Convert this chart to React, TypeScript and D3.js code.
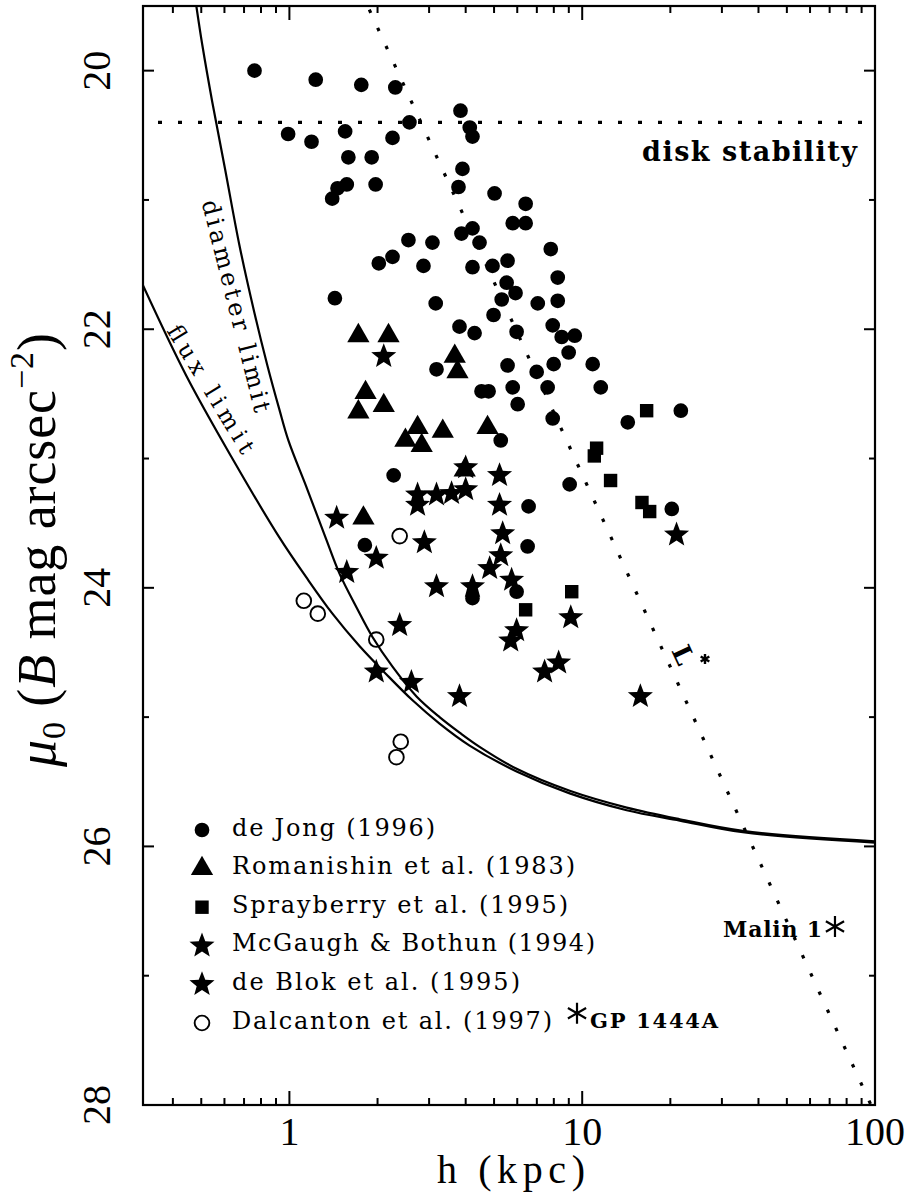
import React from "react";
import * as d3 from "d3";

type Pt = [number, number];

// h (kpc), mu0 (B mag arcsec^-2)
const deJong: Pt[] = [
  [0.76, 20.0], [1.23, 20.07], [1.76, 20.11], [2.3, 20.13], [3.84, 20.31], [2.57, 20.4],
  [4.13, 20.44], [4.22, 20.51], [0.99, 20.49], [1.19, 20.55], [1.55, 20.47], [2.25, 20.52],
  [1.59, 20.67], [1.91, 20.67], [3.9, 20.76], [3.78, 20.9], [1.57, 20.88], [1.46, 20.91],
  [1.4, 20.99], [1.97, 20.88], [2.55, 21.31], [3.08, 21.33], [3.87, 21.26], [4.22, 21.22],
  [2.25, 21.44], [2.02, 21.49], [2.87, 21.51], [4.22, 21.52], [1.43, 21.76], [3.16, 21.8],
  [5.02, 20.95], [6.41, 21.03], [5.79, 21.18], [6.41, 21.18], [4.46, 21.33], [7.81, 21.38],
  [4.94, 21.51], [5.56, 21.47], [5.52, 21.64], [5.92, 21.72], [5.31, 21.77], [7.05, 21.8],
  [8.25, 21.6], [8.25, 21.78], [4.98, 21.89], [4.29, 22.03], [5.97, 22.02], [7.93, 21.97],
  [8.51, 22.06], [9.43, 22.05], [8.99, 22.18], [5.56, 22.28], [6.99, 22.33], [7.99, 22.27],
  [10.86, 22.27], [11.57, 22.45], [7.62, 22.45], [4.53, 22.48], [4.79, 22.48], [5.79, 22.45],
  [6.02, 22.58], [7.93, 22.69], [14.31, 22.72], [21.72, 22.63], [5.27, 22.86], [9.06, 23.2],
  [6.56, 23.37], [20.23, 23.39], [6.51, 23.68], [3.81, 21.98], [3.18, 22.31], [2.27, 23.13],
  [1.81, 23.67], [5.97, 24.03], [4.22, 24.08],
];
const romanishin: Pt[] = [
  [1.72, 22.05], [2.18, 22.05], [1.82, 22.49], [1.72, 22.64], [2.1, 22.59], [3.67, 22.21],
  [3.75, 22.33], [2.74, 22.76], [2.49, 22.86], [2.83, 22.9], [3.34, 22.79], [3.97, 23.09],
  [1.79, 23.46], [4.75, 22.76],
];
const sprayberry: Pt[] = [
  [16.6, 22.63], [11.2, 22.92], [11.0, 22.98], [12.5, 23.17], [16.0, 23.34], [17.0, 23.41],
  [9.21, 24.03], [6.41, 24.17],
];
const mcgaugh: Pt[] = [
  [2.1, 22.21], [1.45, 23.46], [1.98, 23.77], [1.57, 23.88], [2.89, 23.65], [3.18, 23.99],
  [2.38, 24.29], [1.98, 24.65], [2.61, 24.73], [3.81, 24.84], [2.74, 23.28], [2.74, 23.36],
  [3.18, 23.28], [3.58, 23.27], [4.0, 23.07],
];
const deBlok: Pt[] = [
  [4.0, 23.24], [5.22, 23.13], [5.22, 23.36], [5.35, 23.58], [5.27, 23.75], [4.83, 23.85],
  [5.74, 23.94], [4.22, 23.99], [21.0, 23.59], [9.14, 24.23], [5.97, 24.33], [5.7, 24.41],
  [8.31, 24.58], [7.44, 24.65], [15.8, 24.84],
];
const dalcanton: Pt[] = [
  [1.12, 24.1], [1.25, 24.2], [1.98, 24.4], [2.38, 23.6], [2.4, 25.19], [2.32, 25.31],
];
const malin1: Pt = [73, 26.62];
const gp1444a: Pt = [9.6, 27.29];

const diameterLimit: Pt[] = [
  [0.481, 19.5], [0.504, 19.8], [0.545, 20.24], [0.604, 20.77], [0.675, 21.35], [0.759, 21.87],
  [0.841, 22.28], [0.924, 22.62], [0.992, 22.86], [1.152, 23.24], [1.338, 23.63], [1.483, 23.89],
  [1.694, 24.15], [1.922, 24.38], [2.25, 24.61], [2.718, 24.84], [3.257, 25.0], [3.813, 25.12],
  [4.463, 25.23], [5.971, 25.4], [9.064, 25.57], [14.19, 25.7], [21.54, 25.79], [35.38, 25.88],
  [100, 25.96],
];
const fluxLimit: Pt[] = [
  [0.316, 21.66], [0.4445, 22.36], [0.6385, 23.0], [0.924, 23.61], [1.143, 23.92], [1.403, 24.2],
  [1.735, 24.45], [2.146, 24.67], [2.634, 24.87], [3.257, 25.05], [4.125, 25.22], [5.971, 25.42],
  [9.064, 25.59], [14.19, 25.72], [21.54, 25.8], [35.38, 25.89], [100, 25.97],
];
const lStarLine: Pt[] = [[1.85, 19.5], [96.9, 28]];
const stabilityMu = 20.4;

const yTicks = [20, 21, 22, 23, 24, 25, 26, 27, 28];
const yLabels = [20, 22, 24, 26, 28];
const xLabels = [1, 10, 100];

const legendLabels = [
  "de Jong (1996)",
  "Romanishin et al. (1983)",
  "Sprayberry et al. (1995)",
  "McGaugh & Bothun (1994)",
  "de Blok et al. (1995)",
  "Dalcanton et al. (1997)",
];
const legendKinds = ["circle", "triangle", "square", "star", "star", "open"];

const W = 918;
const H = 1194;
const X0 = 143, X1 = 875, Y0 = 6, Y1 = 1105;

const x = d3.scaleLog().domain([Math.pow(10, -0.5), 100]).range([X0, X1]);
const y = d3.scaleLinear().domain([19.5, 28]).range([Y0, Y1]);

const starPath = (R: number, r: number) => {
  const pts = d3.range(10).map((i) => {
    const a = -Math.PI / 2 + (i * Math.PI) / 5;
    const rad = i % 2 === 0 ? R : r;
    return [rad * Math.cos(a), rad * Math.sin(a)];
  });
  return "M" + pts.map((p) => p[0].toFixed(2) + "," + p[1].toFixed(2)).join("L") + "Z";
};
const asteriskPath = (L: number) =>
  [90, 30, -30]
    .map((deg) => {
      const a = (deg * Math.PI) / 180;
      const dx = (Math.cos(a) * L) / 2, dy = (Math.sin(a) * L) / 2;
      return `M${-dx},${-dy}L${dx},${dy}`;
    })
    .join("");

const paths: Record<string, string> = {
  circle: d3.symbol(d3.symbolCircle, 170)()!,
  open: d3.symbol(d3.symbolCircle, 170)()!,
  triangle: d3.symbol(d3.symbolTriangle, 215)()!,
  square: d3.symbol(d3.symbolSquare, 180)()!,
  star: starPath(13.2, 5.6),
};

const Marker = ({ kind, cx, cy }: { kind: string; cx: number; cy: number }) =>
  kind === "open" ? (
    <path d={paths.open} transform={`translate(${cx},${cy})`} fill="none" stroke="#000" strokeWidth={1.9} />
  ) : (
    <path d={paths[kind]} transform={`translate(${cx},${cy})`} fill="#000" />
  );

const curve = d3
  .line<Pt>()
  .x((d) => x(d[0]))
  .y((d) => y(d[1]))
  .curve(d3.curveCatmullRom.alpha(0.5));
const straight = d3
  .line<Pt>()
  .x((d) => x(d[0]))
  .y((d) => y(d[1]));

const series: [Pt[], string][] = [
  [deJong, "circle"],
  [romanishin, "triangle"],
  [sprayberry, "square"],
  [mcgaugh, "star"],
  [deBlok, "star"],
  [dalcanton, "open"],
];

const legendWidths = [203, 343, 336, 363, 288, 320];

export default function App() {
  const xt = x.ticks();
  const serif = "'Liberation Serif', 'Times New Roman', serif";
  const slab = "'DejaVu Serif', serif";
  return (
    <svg
      width={W}
      height={H}
      style={{ position: "absolute", left: 0, top: 0, background: "#fff" }}
    >
      <defs>
        <clipPath id="frame">
          <rect x={X0} y={Y0} width={X1 - X0} height={Y1 - Y0} />
        </clipPath>
      </defs>
      <rect x={0} y={0} width={W} height={H} fill="#fff" />

      <g clipPath="url(#frame)">
        <path d={curve(diameterLimit)!} fill="none" stroke="#000" strokeWidth={2.2} />
        <path d={curve(fluxLimit)!} fill="none" stroke="#000" strokeWidth={2.2} />
        <path
          d={straight(lStarLine)!}
          fill="none"
          stroke="#000"
          strokeWidth={3.2}
          strokeDasharray="3.5 16.5"
          strokeDashoffset={-4}
        />
        <line
          x1={X0}
          x2={X1}
          y1={y(stabilityMu)}
          y2={y(stabilityMu)}
          stroke="#000"
          strokeWidth={3.4}
          strokeDasharray="4 16"
          strokeDashoffset={5}
        />
      </g>

      {series.map(([pts, kind], si) =>
        pts.map((p, i) => <Marker key={si + "-" + i} kind={kind} cx={x(p[0])} cy={y(p[1])} />)
      )}

      {[malin1, gp1444a].map((p, i) => (
        <path
          key={"ast" + i}
          d={asteriskPath(21)}
          transform={`translate(${x(p[0])},${y(p[1])})`}
          stroke="#000"
          strokeWidth={2.2}
          fill="none"
        />
      ))}

      {/* curve labels */}
      <text
        x={0}
        y={0}
        transform="translate(236,306) rotate(75.8)"
        textAnchor="middle"
        dominantBaseline="central"
        fontFamily={slab}
        fontSize={24}
        textLength={218}
        lengthAdjust="spacing"
      >
        diameter limit
      </text>
      <text
        x={0}
        y={0}
        transform="translate(211,389) rotate(58.7)"
        textAnchor="middle"
        dominantBaseline="central"
        fontFamily={slab}
        fontSize={23}
        textLength={146}
        lengthAdjust="spacing"
      >
        flux limit
      </text>
      <text x={642} y={161} fontFamily={slab} fontWeight="bold" fontSize={27} textLength={215} lengthAdjust="spacing">
        disk stability
      </text>
      <text
        x={0}
        y={0}
        transform="translate(683,655) rotate(65)"
        textAnchor="middle"
        dominantBaseline="central"
        fontFamily={slab}
        fontWeight="bold"
        fontSize={26}
      >
        L
      </text>
      <path d={asteriskPath(10)} transform="translate(705,659)" stroke="#000" strokeWidth={2.4} />
      <text x={822} y={937} textAnchor="end" fontFamily={slab} fontWeight="bold" fontSize={22} textLength={99} lengthAdjust="spacing">
        Malin 1
      </text>
      <text x={590} y={1028} fontFamily={slab} fontWeight="bold" fontSize={21} textLength={128} lengthAdjust="spacing">
        GP 1444A
      </text>

      {/* legend */}
      {legendLabels.map((lab, i) => {
        const cy = 830 + i * 38.6;
        return (
          <g key={lab}>
            <Marker kind={legendKinds[i]} cx={202} cy={cy} />
            <text
              x={232}
              y={cy + 5.5}
              fontFamily={slab}
              fontSize={24}
              textLength={legendWidths[i]}
              lengthAdjust="spacing"
            >
              {lab}
            </text>
          </g>
        );
      })}

      {/* frame */}
      <rect x={X0} y={Y0} width={X1 - X0} height={Y1 - Y0} fill="none" stroke="#000" strokeWidth={2.2} />

      {/* x ticks */}
      {xt.map((t, i) => {
        const major = Math.abs(Math.log10(t) - Math.round(Math.log10(t))) < 1e-9;
        const len = major ? 14 : 7;
        const px = x(t);
        return (
          <g key={"xt" + i}>
            <line x1={px} x2={px} y1={Y1} y2={Y1 - len} stroke="#000" strokeWidth={2} />
            <line x1={px} x2={px} y1={Y0} y2={Y0 + len} stroke="#000" strokeWidth={2} />
          </g>
        );
      })}
      {xLabels.map((t) => (
        <text key={"xl" + t} x={x(t)} y={1145} textAnchor="middle" fontFamily={serif} fontSize={40}>
          {t}
        </text>
      ))}

      {/* y ticks */}
      {yTicks.map((t) => {
        const major = t % 2 === 0;
        const len = major ? 11 : 6;
        const py = y(t);
        return (
          <g key={"yt" + t}>
            <line x1={X0} x2={X0 + len} y1={py} y2={py} stroke="#000" strokeWidth={2} />
            <line x1={X1} x2={X1 - len} y1={py} y2={py} stroke="#000" strokeWidth={2} />
          </g>
        );
      })}
      {yLabels.map((t) => (
        <text
          key={"yl" + t}
          x={0}
          y={0}
          transform={`translate(110,${y(t)}) rotate(-90)`}
          textAnchor="middle"
          fontFamily={serif}
          fontSize={40}
        >
          {t}
        </text>
      ))}

      {/* axis titles */}
      <text x={437} y={1183} fontFamily={serif} fontSize={40} textLength={148} lengthAdjust="spacing">
        h (kpc)
      </text>
      <text
        x={0}
        y={0}
        transform="translate(55,550) rotate(-90)"
        textAnchor="middle"
        fontFamily={serif}
        fontSize={54}
        textLength={434}
        lengthAdjust="spacing"
      >
        <tspan fontStyle="italic">μ</tspan>
        <tspan fontSize={34} dy={10}>0</tspan>
        <tspan dy={-10}> (</tspan>
        <tspan fontStyle="italic">B</tspan>
        <tspan> mag arcsec</tspan>
        <tspan fontSize={34} dy={-22}>−2</tspan>
        <tspan dy={22}>)</tspan>
      </text>
    </svg>
  );
}
